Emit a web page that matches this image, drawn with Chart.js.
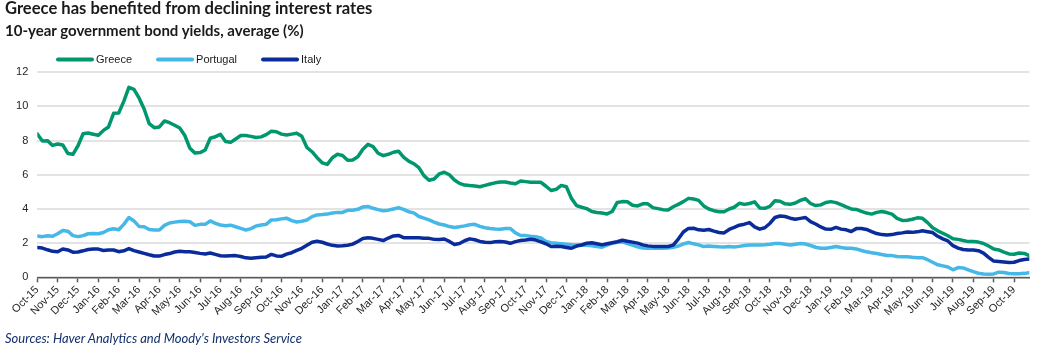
<!DOCTYPE html>
<html>
<head>
<meta charset="utf-8">
<script src="https://cdn.jsdelivr.net/npm/chart.js@4"></script>
<style>
html,body{margin:0;padding:0;background:#fff;}
#wrap{position:relative;width:1042px;height:353px;overflow:hidden;background:#fff;}
#c{position:absolute;left:0;top:0;}
.t{position:absolute;left:5px;white-space:nowrap;font-family:Lato,"Noto Sans",sans-serif;color:#1a1a1a;line-height:1;}
#title{top:0px;font-size:16.6px;font-weight:700;}
#sub{top:23px;font-size:15px;font-weight:700;}
#src{top:332px;font-size:13px;font-style:italic;color:#12306a;}
</style>
</head>
<body>
<div id="wrap">
<canvas id="c" width="1042" height="353"></canvas>
<div class="t" id="title">Greece has benefited from declining interest rates</div>
<div class="t" id="sub">10-year government bond yields, average (%)</div>
<div class="t" id="src">Sources: Haver Analytics and Moody's Investors Service</div>
</div>
<script>
// Month tick labels
const monthLabels = [
  'Oct-15','Nov-15','Dec-15',
  'Jan-16','Feb-16','Mar-16','Apr-16','May-16','Jun-16','Jul-16','Aug-16','Sep-16','Oct-16','Nov-16','Dec-16',
  'Jan-17','Feb-17','Mar-17','Apr-17','May-17','Jun-17','Jul-17','Aug-17','Sep-17','Oct-17','Nov-17','Dec-17',
  'Jan-18','Feb-18','Mar-18','Apr-18','May-18','Jun-18','Jul-18','Aug-18','Sep-18','Oct-18','Nov-18','Dec-18',
  'Jan-19','Feb-19','Mar-19','Apr-19','May-19','Jun-19','Jul-19','Aug-19','Sep-19','Oct-19'
];
const seriesNames = ['Greece','Portugal','Italy'];
// Weekly (quarter-month) readings, starting Oct-15
const greece = [
  8.39,7.98,8.0,7.72, 7.8,7.75,7.25,7.2, 7.7,8.4,8.45,8.37,
  8.31,8.6,8.8,9.6, 9.62,10.3,11.12,11.0, 10.5,9.85,9.0,8.76, 8.8,9.15,9.05,8.9,
  8.74,8.3,7.55,7.27, 7.3,7.45,8.14,8.23, 8.37,7.95,7.9,8.1, 8.3,8.3,8.25,8.18,
  8.22,8.35,8.55,8.52, 8.38,8.33,8.38,8.43, 8.25,7.6,7.35,7.0, 6.7,6.61,7.0,7.2,
  7.13,6.85,6.87,7.06, 7.5,7.78,7.65,7.26, 7.12,7.2,7.32,7.38, 7.03,6.8,6.65,6.42,
  5.95,5.68,5.75,6.05, 6.15,6.0,5.7,5.5, 5.4,5.37,5.35,5.3, 5.38,5.46,5.53,5.58,
  5.58,5.52,5.48,5.64, 5.6,5.56,5.56,5.56, 5.33,5.08,5.15,5.38, 5.3,4.62,4.2,4.1,
  4.02,3.85,3.79,3.76, 3.71,3.85,4.38,4.43, 4.42,4.22,4.18,4.3, 4.3,4.08,4.02,3.96,
  3.94,4.13,4.27,4.43, 4.62,4.58,4.5,4.18, 4.0,3.9,3.84,3.84, 4.0,4.1,4.33,4.27,
  4.32,4.42,4.06,4.04, 4.15,4.48,4.45,4.3, 4.27,4.35,4.5,4.6, 4.32,4.2,4.24,4.38,
  4.43,4.37,4.25,4.12, 4.0,3.97,3.86,3.76, 3.7,3.8,3.85,3.79, 3.7,3.45,3.33,3.34,
  3.4,3.48,3.45,3.2, 2.9,2.72,2.58,2.43, 2.25,2.22,2.15,2.09, 2.09,2.06,1.98,1.83,
  1.66,1.6,1.48,1.37, 1.35,1.42,1.4,1.27
];
const portugal = [
  2.42,2.38,2.43,2.4, 2.55,2.74,2.7,2.44, 2.38,2.44,2.55,2.56,
  2.55,2.62,2.78,2.84, 2.78,3.1,3.5,3.3, 2.98,2.96,2.8,2.77, 2.77,3.04,3.18,3.23,
  3.26,3.28,3.25,3.04, 3.1,3.1,3.3,3.16, 3.06,3.02,3.05,2.96, 2.86,2.77,2.85,3.0,
  3.06,3.1,3.36,3.37, 3.42,3.46,3.32,3.24, 3.28,3.35,3.55,3.65, 3.67,3.7,3.76,3.8,
  3.8,3.92,3.92,3.98, 4.12,4.15,4.04,3.96, 3.9,3.93,4.0,4.07, 3.98,3.84,3.77,3.56,
  3.46,3.36,3.23,3.12, 3.06,2.97,2.91,2.96, 3.01,3.08,3.1,2.98, 2.9,2.86,2.83,2.81,
  2.86,2.85,2.6,2.45, 2.44,2.4,2.38,2.3, 2.1,2.03,2.0,1.97, 1.94,1.9,1.89,1.89,
  1.88,1.85,1.8,1.76, 1.88,1.99,2.05,2.08, 1.98,1.88,1.78,1.71, 1.7,1.7,1.7,1.7,
  1.72,1.76,1.83,1.95, 2.04,1.96,1.9,1.8, 1.83,1.81,1.79,1.78, 1.8,1.78,1.81,1.86,
  1.89,1.89,1.89,1.9, 1.93,1.98,1.98,1.94, 1.89,1.94,1.98,1.95, 1.86,1.76,1.7,1.7,
  1.75,1.8,1.74,1.7, 1.7,1.66,1.57,1.49, 1.44,1.39,1.33,1.28, 1.27,1.22,1.21,1.2,
  1.17,1.15,1.15,1.03, 0.88,0.73,0.67,0.6, 0.44,0.57,0.55,0.44, 0.33,0.24,0.19,0.18,
  0.2,0.3,0.28,0.22, 0.21,0.21,0.23,0.27
];
const italy = [
  1.74,1.71,1.61,1.52, 1.5,1.66,1.6,1.47, 1.48,1.55,1.63,1.66,
  1.65,1.57,1.6,1.6, 1.5,1.55,1.68,1.56, 1.48,1.4,1.32,1.25, 1.24,1.33,1.39,1.48,
  1.53,1.5,1.49,1.45, 1.4,1.36,1.42,1.34, 1.26,1.25,1.26,1.27, 1.22,1.14,1.12,1.15,
  1.17,1.19,1.34,1.25, 1.23,1.36,1.44,1.58, 1.7,1.88,2.05,2.11, 2.05,1.95,1.87,1.83,
  1.85,1.88,1.94,2.1, 2.27,2.31,2.28,2.22, 2.15,2.3,2.42,2.45, 2.32,2.32,2.32,2.31,
  2.28,2.28,2.22,2.21, 2.24,2.1,1.92,1.98, 2.14,2.25,2.2,2.1, 2.05,2.03,2.08,2.09,
  2.07,1.99,2.09,2.15, 2.18,2.23,2.18,2.07, 1.96,1.8,1.82,1.8, 1.75,1.7,1.83,1.89,
  2.0,2.02,1.96,1.9, 1.96,2.02,2.08,2.17, 2.11,2.06,2.0,1.9, 1.84,1.81,1.8,1.8,
  1.8,1.88,2.24,2.65, 2.86,2.87,2.78,2.75, 2.8,2.7,2.62,2.6, 2.8,2.92,3.05,3.11,
  3.2,2.95,2.82,2.9, 3.15,3.5,3.59,3.56, 3.46,3.4,3.45,3.5, 3.26,3.12,2.95,2.82,
  2.81,2.92,2.82,2.78, 2.68,2.85,2.86,2.8, 2.68,2.56,2.5,2.48, 2.5,2.56,2.6,2.65,
  2.63,2.66,2.72,2.67, 2.62,2.4,2.25,2.13, 1.85,1.71,1.63,1.6, 1.6,1.56,1.42,1.17,
  0.95,0.92,0.89,0.86, 0.88,0.98,1.04,1.07
];
const yTicks = [0,2,4,6,8,10,12];

const STEP = 0.25; // one reading per quarter month
const toPoints = arr => arr.map((v, i) => ({x: i * STEP, y: v}));
const colors = ['#00976e', '#45b8e8', '#0a2c9b'];
const FONT = '"Liberation Sans", Arial, sans-serif';

const legendPlugin = {
  id: 'customLegend',
  afterDraw(chart) {
    const ctx = chart.ctx;
    ctx.save();
    ctx.font = '11px ' + FONT;
    ctx.textBaseline = 'middle';
    ctx.textAlign = 'left';
    let x = 57;
    const y = 59.5;
    chart.data.datasets.forEach(ds => {
      ctx.strokeStyle = ds.borderColor;
      ctx.lineWidth = 4;
      ctx.lineCap = 'round';
      ctx.beginPath();
      ctx.moveTo(x + 1, y);
      ctx.lineTo(x + 35, y);
      ctx.stroke();
      ctx.fillStyle = '#1a1a1a';
      ctx.fillText(ds.label, x + 39, y + 0.5);
      x += 39 + ctx.measureText(ds.label).width + 25;
    });
    ctx.restore();
  }
};

new Chart(document.getElementById('c'), {
  type: 'line',
  data: {
    datasets: [
      {label: seriesNames[0], data: toPoints(greece), borderColor: colors[0], order: 2},
      {label: seriesNames[1], data: toPoints(portugal), borderColor: colors[1], order: 1},
      {label: seriesNames[2], data: toPoints(italy), borderColor: colors[2], order: 0}
    ]
  },
  options: {
    responsive: false,
    animation: false,
    devicePixelRatio: 1,
    layout: {padding: {top: 72.3, right: 12.7, left: 0, bottom: 0}},
    elements: {
      line: {borderWidth: 3.5, tension: 0, fill: false, borderJoinStyle: 'round', borderCapStyle: 'round'},
      point: {radius: 0, hoverRadius: 0}
    },
    plugins: {
      legend: {display: false},
      tooltip: {enabled: false},
      title: {display: false}
    },
    scales: {
      x: {
        type: 'linear',
        min: 0,
        max: 48.75,
        afterBuildTicks: s => { s.ticks = monthLabels.map((_, i) => ({value: i})); },
        afterFit: s => { s.height = 75.7; },
        ticks: {
          stepSize: 1, autoSkip: false, minRotation: 45, maxRotation: 45, padding: 1,
          color: '#262626', font: {family: FONT, size: 11},
          callback: (v, i) => monthLabels[i] ?? ''
        },
        grid: {drawOnChartArea: false, drawTicks: true, tickLength: 5, tickWidth: 1.5, tickColor: '#595959'},
        border: {display: true, color: '#595959', width: 1.5}
      },
      y: {
        min: 0,
        max: 12,
        afterBuildTicks: s => { s.ticks = yTicks.map(v => ({value: v})); },
        afterFit: s => { s.width = 37.3; },
        ticks: {stepSize: 2, padding: 9, color: '#262626', font: {family: FONT, size: 11}},
        grid: {color: '#e3e3e3', lineWidth: 2, drawTicks: false},
        border: {display: false}
      }
    }
  },
  plugins: [legendPlugin]
});
</script>
</body>
</html>
